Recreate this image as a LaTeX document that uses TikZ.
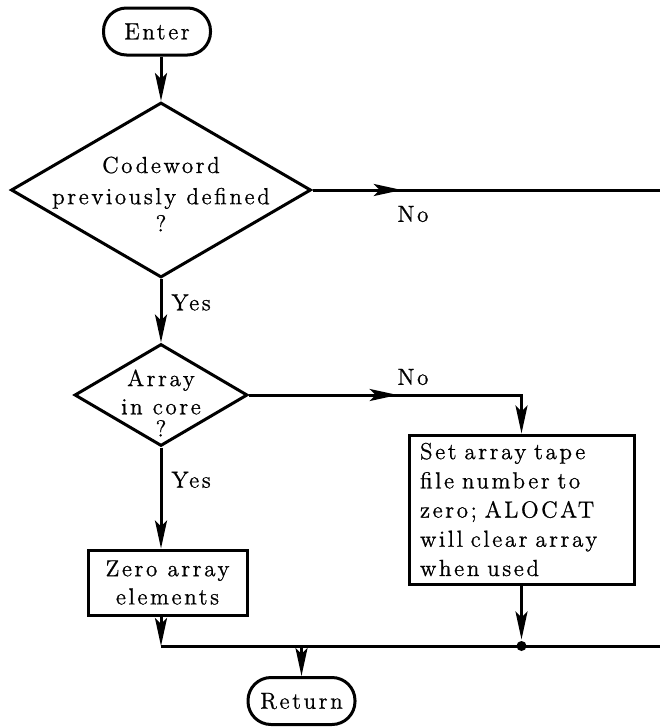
\documentclass[tikz,border=0pt]{standalone}
\usepackage{fontspec}
\setmainfont{Latin Modern Roman}[LetterSpace=11, FakeBold=0.8]
\usetikzlibrary{shapes.geometric,arrows.meta,decorations.markings}

\begin{document}
\begin{tikzpicture}[x=0.5pt, y=-0.5pt, line width=1.5pt,
    >={Stealth[length=14pt,width=6pt,inset=3pt]},
    every node/.style={font=\fontsize{11.6pt}{14.6pt}\selectfont},
    term/.style={draw, rectangle, rounded corners=11.5pt, minimum width=53.5pt, minimum height=23.5pt, inner sep=0pt},
    decision/.style={draw, diamond, inner sep=0pt},
    box/.style={draw, rectangle, inner sep=0pt},
    txt/.style={align=center, inner sep=0pt},
    lbl/.style={inner sep=0pt},
    midarrow/.style={postaction={decorate}, decoration={markings, mark=at position #1 with {\arrow{>}}}}]
    \useasboundingbox (0,0) rectangle (660,728);

    \node[term] (a) at (157,31.5) {Enter};
    \node[decision, minimum width=150pt, minimum height=87.5pt] (b) at (161,190) {};
    \node[txt] (bt) at (161,194) {Codeword\\[1pt]previously defined\\[-1pt]?};
    \node[decision, minimum width=86.5pt, minimum height=51pt] (c) at (161,395) {};
    \node[txt] (ct) at (161,403) {Array\\[-0.5pt]in core\\[-3.5pt]?};
    \node[box, align=center, minimum width=79.5pt, minimum height=32.5pt] (d) at (167.5,582.5) {Zero array\\[-0.5pt]elements};
    \node[box, align=left, text width=101.5pt, inner xsep=5.5pt, minimum height=74.5pt] (f) at (521.5,509.5)
        {Set array tape\\file number to\\zero; ALOCAT\\will clear array\\when used};
    \node[term] (g) at (301.5,701) {Return};
    \node[circle, fill, inner sep=0pt, minimum size=5pt] (j) at (521.5,646) {};
    \coordinate (k) at (161,646);
    \coordinate (e1) at (660,190);
    \coordinate (e2) at (660,646);

    \draw[->] (b.north |- a.south) -- (b.north);
    \draw[midarrow=0.257] (b.east) -- (e1);
    \node[lbl] (no1) at (413,214) {No};
    \draw[->] (b.south) -- node[lbl, right=4.5pt, pos=0.37] (yes1) {Yes} (c.north);
    \draw[->, midarrow=0.478] (c.east) -| (f.north);
    \node[lbl] (no2) at (413,377) {No};
    \draw[->] (c.south) -- node[lbl, right=4.5pt, pos=0.32] (yes2) {Yes} (c.south |- d.north);
    \draw[->] (c.south |- d.south) -- (k);
    \draw (k) -- (e2);
    \draw[->] (f.south) -- (j);
    \draw[->] (g.north |- k) -- (g.north);
\end{tikzpicture}
\end{document}
